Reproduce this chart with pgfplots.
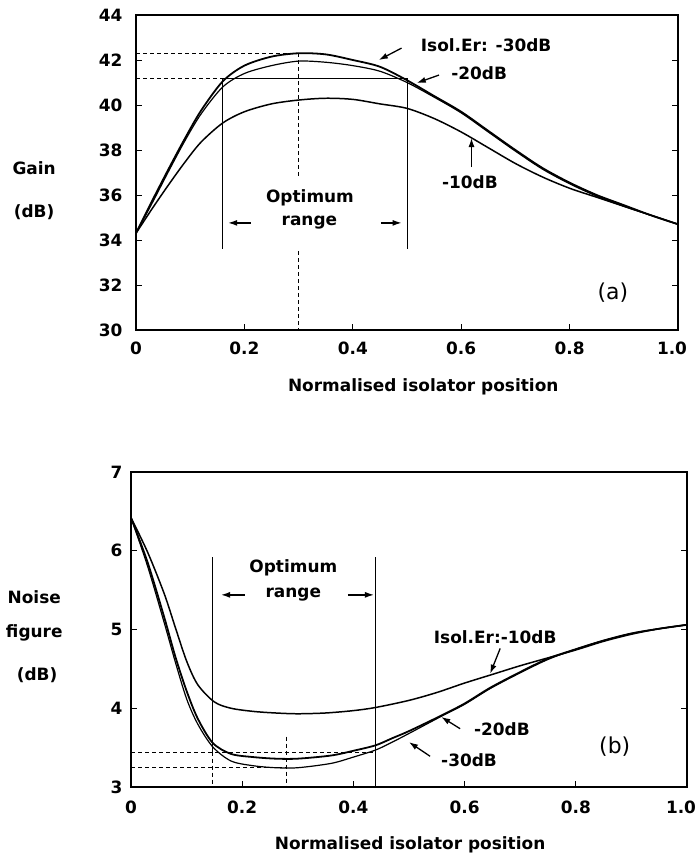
\documentclass[border=0pt]{standalone}
\usepackage{pgfplots}
\pgfplotsset{compat=1.18}
\usepackage{fontspec}
\setmainfont{DejaVu Sans}
\usetikzlibrary{arrows.meta}
\newcommand{\lab}{\fontsize{17}{20}\selectfont\bfseries}
\newcommand{\pan}{\fontsize{22}{26}\selectfont}
\pgfplotsset{
  my/.style={
    scale only axis, clip=false,
    axis line style={line width=1.3pt},
    tick style={line width=1pt, black},
    tick align=inside, major tick length=6bp,
    xtick pos=bottom, ytick pos=both,
    /pgf/number format/assume math mode=true,
    tick label style={font=\lab},
    every axis plot/.append style={black, no markers},
    xtick={0,0.2,0.4,0.6,0.8}, xticklabels={0,0.2,0.4,0.6,0.8},
    extra x ticks={1}, extra x tick labels={1.0},
    extra x tick style={xticklabel style={xshift=-6bp}},
  },
  dsh/.style={line width=1pt, dash pattern=on 4bp off 3bp},
  ref/.style={line width=0.9pt},
}
\tikzset{arr/.style={line width=1.3pt, -{Latex[length=9bp,width=6bp]}},
  tl/.style={font=\lab, inner sep=0pt}}
\begin{document}
\begin{tikzpicture}
\path[use as bounding box] (0,0) rectangle (698bp,-858bp);
% ---------------- (a) Gain ----------------
\begin{axis}[my, at={(136bp,-15bp)}, anchor=north west,
  width=542bp, height=315bp,
  xmin=0, xmax=1, ymin=30, ymax=44,
  ytick={30,32,...,44},
  yticklabel style={xshift=-10bp},
  xticklabel style={yshift=-8bp},
]
\addplot[line width=1.8pt, smooth] coordinates {
(0,34.3)(0.03,35.75)(0.06,37.15)(0.09,38.5)(0.12,39.75)(0.16,41.05)(0.2,41.75)(0.25,42.15)(0.3,42.3)(0.35,42.25)(0.4,42.0)(0.45,41.7)(0.5,41.1)(0.55,40.4)(0.6,39.7)(0.65,38.85)(0.7,38.0)(0.75,37.2)(0.8,36.55)(0.85,36.0)(0.9,35.55)(0.95,35.1)(1.0,34.7)};
\addplot[line width=1.2pt, smooth] coordinates {
(0,34.3)(0.03,35.65)(0.06,37.05)(0.09,38.4)(0.12,39.6)(0.16,40.8)(0.2,41.4)(0.25,41.75)(0.3,41.95)(0.35,41.9)(0.4,41.75)(0.45,41.5)(0.5,41.0)(0.55,40.35)(0.6,39.65)(0.65,38.8)(0.7,37.95)(0.75,37.15)(0.8,36.5)(0.85,35.95)(0.9,35.5)(0.95,35.1)(1.0,34.7)};
\addplot[line width=1.5pt, smooth] coordinates {
(0,34.3)(0.03,35.4)(0.06,36.45)(0.09,37.45)(0.12,38.35)(0.16,39.2)(0.2,39.7)(0.25,40.05)(0.3,40.22)(0.35,40.3)(0.4,40.25)(0.45,40.05)(0.5,39.85)(0.55,39.4)(0.6,38.8)(0.65,38.1)(0.7,37.4)(0.75,36.8)(0.8,36.3)(0.85,35.9)(0.9,35.5)(0.95,35.1)(1.0,34.7)};
% reference lines
\addplot[dsh] coordinates {(0,42.3)(0.3,42.3)};
\addplot[dsh] coordinates {(0,41.2)(0.16,41.2)};
\addplot[ref] coordinates {(0.16,41.2)(0.5,41.2)};
\addplot[ref] coordinates {(0.16,41.2)(0.16,33.6)};
\addplot[ref] coordinates {(0.5,41.2)(0.5,33.6)};
\addplot[dsh] coordinates {(0.3,42.3)(0.3,36.8)};
\addplot[dsh] coordinates {(0.3,33.5)(0.3,30)};
% annotations
\node[tl] at (axis cs:0.321,35.87) {Optimum};
\node[tl] at (axis cs:0.32,34.76) {range};
\draw[arr] (axis cs:0.212,34.76) -- (axis cs:0.17,34.76);
\draw[arr] (axis cs:0.452,34.76) -- (axis cs:0.49,34.76);
\node[tl] at (axis cs:0.646,42.67) {Isol.Er: -30dB};
\draw[arr] (axis cs:0.49,42.53) -- (axis cs:0.448,42.0);
\node[tl] at (axis cs:0.633,41.42) {-20dB};
\draw[arr] (axis cs:0.559,41.33) -- (axis cs:0.518,40.98);
\node[tl] at (axis cs:0.616,36.58) {-10dB};
\draw[arr] (axis cs:0.619,37.24) -- (axis cs:0.619,38.53);
\node[inner sep=0pt, font=\pan] at (axis cs:0.88,31.64) {(a)};
\node[tl] at (axis description cs:-0.188,0.514) {Gain};
\node[tl] at (axis description cs:-0.188,0.375) {(dB)};
\node[tl] at (axis description cs:0.53,-0.181) {Normalised isolator position};
\end{axis}
% ---------------- (b) Noise figure ----------------
\begin{axis}[my, at={(131bp,-472bp)}, anchor=north west,
  width=556bp, height=315bp,
  xmin=0, xmax=1, ymin=3, ymax=7,
  ytick={3,4,5,6,7},
  yticklabel style={xshift=-5bp},
  xticklabel style={yshift=-10bp},
]
\addplot[line width=1.5pt, smooth] coordinates {
(0,6.42)(0.03,5.98)(0.06,5.45)(0.08,5.02)(0.10,4.6)(0.12,4.3)(0.15,4.08)(0.18,4.0)(0.22,3.96)(0.26,3.94)(0.3,3.93)(0.35,3.94)(0.4,3.97)(0.44,4.01)(0.5,4.1)(0.55,4.2)(0.6,4.32)(0.65,4.43)(0.7,4.54)(0.75,4.64)(0.8,4.74)(0.85,4.85)(0.9,4.94)(0.95,5.01)(1.0,5.06)};
\addplot[line width=1.8pt, smooth] coordinates {
(0,6.42)(0.03,5.85)(0.06,5.15)(0.08,4.65)(0.10,4.22)(0.12,3.87)(0.147,3.56)(0.18,3.42)(0.22,3.38)(0.26,3.36)(0.3,3.36)(0.36,3.40)(0.40,3.46)(0.44,3.53)(0.47,3.62)(0.5,3.71)(0.556,3.9)(0.6,4.06)(0.646,4.26)(0.7,4.46)(0.75,4.63)(0.8,4.75)(0.85,4.86)(0.9,4.95)(0.95,5.01)(1.0,5.06)};
\addplot[line width=1.2pt, smooth] coordinates {
(0,6.42)(0.03,5.8)(0.06,5.08)(0.08,4.58)(0.10,4.12)(0.12,3.8)(0.147,3.51)(0.18,3.33)(0.22,3.27)(0.26,3.245)(0.3,3.245)(0.36,3.30)(0.40,3.38)(0.44,3.47)(0.47,3.57)(0.5,3.68)(0.556,3.89)(0.6,4.05)(0.646,4.25)(0.7,4.45)(0.75,4.62)(0.8,4.75)(0.85,4.86)(0.9,4.95)(0.95,5.01)(1.0,5.06)};
% reference lines
\addplot[ref] coordinates {(0.147,5.92)(0.147,3.45)};
\addplot[dsh, line width=0.7pt] coordinates {(0.147,3.45)(0.147,3)};
\addplot[ref] coordinates {(0.44,5.92)(0.44,3)};
\addplot[dsh] coordinates {(0,3.44)(0.44,3.44)};
\addplot[dsh] coordinates {(0,3.245)(0.28,3.245)};
\addplot[dsh, line width=0.7pt] coordinates {(0.28,3.64)(0.28,3)};
% annotations
\node[tl] at (axis cs:0.292,5.78) {Optimum};
\node[tl] at (axis cs:0.292,5.44) {range};
\draw[arr] (axis cs:0.205,5.44) -- (axis cs:0.162,5.44);
\draw[arr] (axis cs:0.39,5.44) -- (axis cs:0.437,5.44);
\node[tl] at (axis cs:0.655,4.90) {Isol.Er:-10dB};
\draw[arr] (axis cs:0.664,4.76) -- (axis cs:0.646,4.44);
\node[tl] at (axis cs:0.667,3.74) {-20dB};
\draw[arr] (axis cs:0.592,3.74) -- (axis cs:0.558,3.89);
\node[tl] at (axis cs:0.608,3.34) {-30dB};
\draw[arr] (axis cs:0.538,3.39) -- (axis cs:0.500,3.57);
\node[inner sep=0pt, font=\pan] at (axis cs:0.87,3.51) {(b)};
\node[tl] at (axis description cs:-0.174,0.603) {Noise};
\node[tl] at (axis description cs:-0.174,0.489) {figure};
\node[tl] at (axis description cs:-0.169,0.356) {(dB)};
\node[tl] at (axis description cs:0.502,-0.184) {Normalised isolator position};
\end{axis}
\end{tikzpicture}
\end{document}
